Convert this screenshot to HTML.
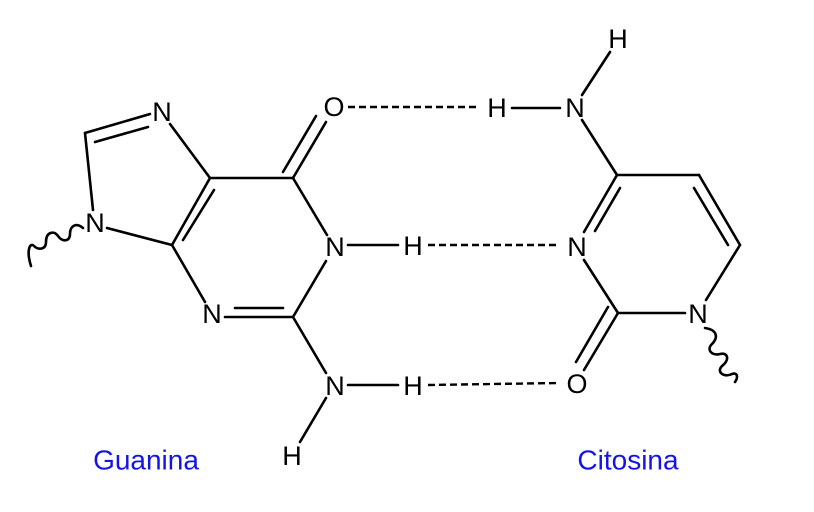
<!DOCTYPE html>
<html><head><meta charset="utf-8"><style>
html,body{margin:0;padding:0;background:#fff;}
svg{display:block;}
text{font-family:"Liberation Sans",sans-serif;font-size:27px;fill:#000;text-anchor:middle;dominant-baseline:central;}
.lab{fill:#1414e6;font-size:28px;}
</style></head><body>
<svg width="814" height="512" viewBox="0 0 814 512" xmlns="http://www.w3.org/2000/svg">
<g stroke="#000" stroke-width="2.6" fill="none" stroke-linecap="round">
<!-- Guanine -->
<line x1="150" y1="114" x2="85" y2="133"/>
<line x1="148" y1="127" x2="95" y2="142"/>
<line x1="85" y1="133" x2="93" y2="210"/>
<line x1="107" y1="228" x2="172" y2="245"/>
<line x1="170" y1="124" x2="210" y2="178"/>
<line x1="172" y1="245" x2="210" y2="178"/>
<line x1="183" y1="240" x2="214" y2="190"/>
<line x1="210" y1="178" x2="293" y2="178"/>
<line x1="293" y1="178" x2="327" y2="235"/>
<line x1="293" y1="178" x2="326" y2="122"/>
<line x1="283" y1="172" x2="316" y2="116"/>
<line x1="326" y1="261" x2="293" y2="317"/>
<line x1="293" y1="317" x2="225" y2="317"/>
<line x1="283" y1="308" x2="235" y2="308"/>
<line x1="172" y1="245" x2="205" y2="302"/>
<line x1="293" y1="317" x2="326" y2="373"/>
<line x1="348" y1="245" x2="398" y2="245"/>
<line x1="348" y1="385" x2="398" y2="385"/>
<line x1="326" y1="398" x2="300" y2="442"/>
<path d="M83 228 C76 222 70 226 70 234 C70 242 62 242 58 236 C54 230 46 232 46 242 C46 250 38 250 34 246 C30 242 26 250 31 266"/>
<!-- Cytosine -->
<line x1="512" y1="108" x2="560" y2="108"/>
<line x1="582" y1="95" x2="610" y2="52"/>
<line x1="582" y1="120" x2="617" y2="175"/>
<line x1="617" y1="175" x2="699" y2="175"/>
<line x1="699" y1="175" x2="740" y2="245"/>
<line x1="694" y1="188" x2="728" y2="245"/>
<line x1="740" y1="245" x2="706" y2="300"/>
<line x1="685" y1="313" x2="618" y2="313"/>
<line x1="617" y1="175" x2="584" y2="232"/>
<line x1="620" y1="188" x2="595" y2="231"/>
<line x1="584" y1="260" x2="618" y2="313"/>
<line x1="618" y1="313" x2="584" y2="370"/>
<line x1="608" y1="307" x2="576" y2="362"/>
<path d="M705 328 C718 330 718 338 712 344 C706 350 712 356 720 354 C728 352 730 360 722 366 C716 372 724 378 732 374 C738 372 738 378 735 382"/>
</g>
<g stroke="#000" stroke-width="2.4" stroke-dasharray="7,4">
<line x1="348" y1="107" x2="478" y2="107"/>
<line x1="428" y1="245" x2="560" y2="245"/>
<line x1="428" y1="385" x2="558" y2="383"/>
</g>
<text x="162" y="112">N</text>
<text x="95" y="223">N</text>
<text x="212" y="314">N</text>
<text x="334" y="107">O</text>
<text x="335" y="247">N</text>
<text x="413" y="246">H</text>
<text x="335" y="386">N</text>
<text x="413" y="386">H</text>
<text x="292" y="456">H</text>
<text x="497" y="108">H</text>
<text x="575" y="108">N</text>
<text x="618" y="39">H</text>
<text x="577" y="247">N</text>
<text x="698" y="314">N</text>
<text x="577" y="384">O</text>
<text class="lab" x="146" y="460">Guanina</text>
<text class="lab" x="628" y="460">Citosina</text>
</svg>
</body></html>
